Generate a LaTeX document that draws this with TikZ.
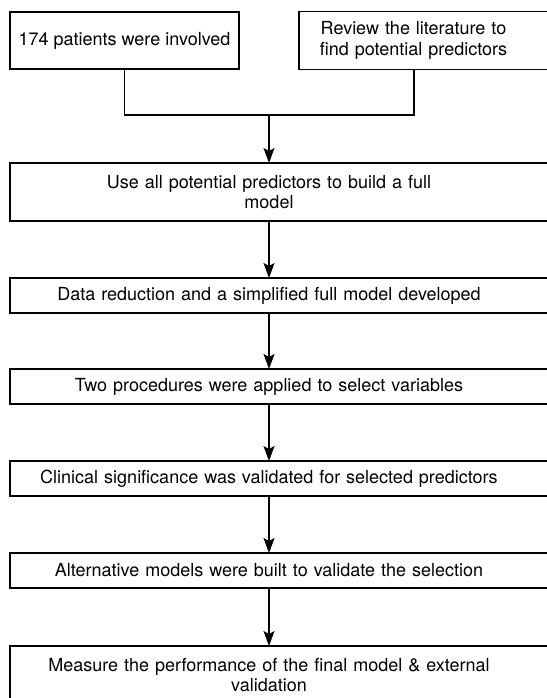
\documentclass[tikz,border=0pt]{standalone}
\usepackage{fontspec}
\setmainfont{TeX Gyre Heros}
\usepackage{tikz}
\usetikzlibrary{arrows.meta, positioning}

\begin{document}
\begin{tikzpicture}[
  x=1pt, y=-1pt,
  node distance=57pt,
  font=\fontsize{18}{20.5}\selectfont,
  box/.style={draw, line width=1.1pt, outer sep=0pt, inner xsep=5pt, inner ysep=3pt, align=center},
  stepbox/.style={box, minimum height=35pt, text width=528pt, execute at begin node={\advance\rightskip by 20pt}},
  tall/.style={minimum height=58pt},
  line/.style={line width=1.2pt},
  arr/.style={line, -{Stealth[length=15pt, width=11pt, inset=3pt]}}
]
  \useasboundingbox (0,0) rectangle (546,698);

  % sources
  \node[box, minimum width=229pt, minimum height=57pt] (pat) at (124.5,40.5) {174 patients were involved};
  \node[box, tall, text width=239pt, execute at begin node={\advance\rightskip by 20pt}] (rev) at (423.5,40.5) {Review the literature to\\find potential predictors};

  \coordinate (join) at (269,115);
  \coordinate (spine) at (269,0);
  \coordinate (revx) at (414,0);

  % main steps
  \node[stepbox, tall] (full) at (279,192) {Use all potential predictors to build a full\\model};
  \node[stepbox, below=of full] (reduce) {Data reduction and a simplified full model developed};
  \node[stepbox, below=56pt of reduce] (select) {Two procedures were applied to select variables};
  \node[stepbox, below=of select] (clin) {Clinical significance was validated for selected predictors};
  \node[stepbox, below=of clin] (alt) {Alternative models were built to validate the selection};
  \node[stepbox, tall, below=58pt of alt] (perf) {Measure the performance of the final model \& external\\validation};

  \draw[line] (pat.south) |- (join) -| (rev.south -| revx);
  \draw[arr] (join) -- (full.north -| join);
  \draw[arr] (full.south -| spine) -- (reduce.north -| spine);
  \draw[arr] (reduce.south -| spine) -- (select.north -| spine);
  \draw[arr] (select.south -| spine) -- (clin.north -| spine);
  \draw[arr] (clin.south -| spine) -- (alt.north -| spine);
  \draw[arr] (alt.south -| spine) -- (perf.north -| spine);
\end{tikzpicture}
\end{document}
